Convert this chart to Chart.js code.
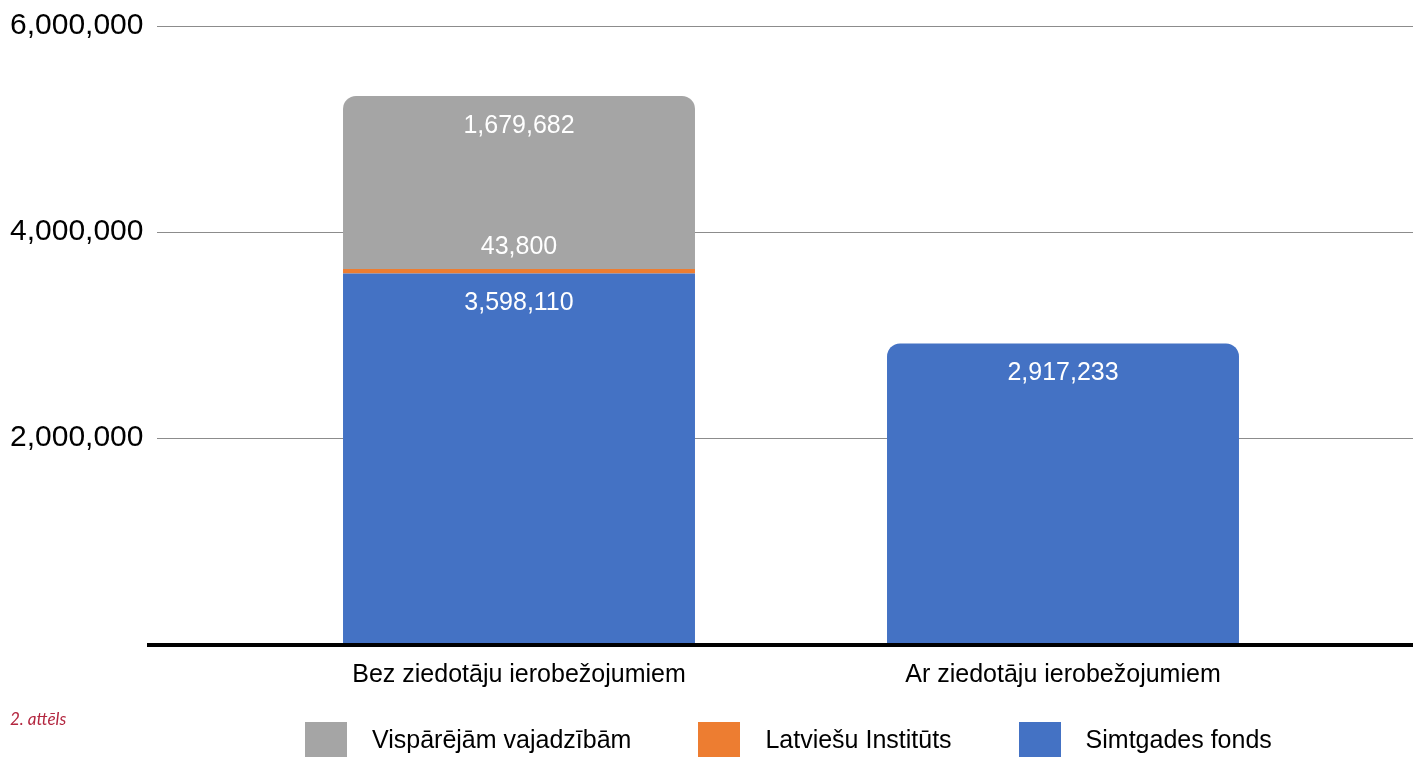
<!DOCTYPE html>
<html>
<head>
<meta charset="utf-8">
<script src="https://cdn.jsdelivr.net/npm/chart.js@4"></script>
<style>
  body { margin: 0; background: #fff; }
  #wrap { position: relative; width: 1413px; height: 757px; overflow: hidden; }
  #caption {
    position: absolute; left: 10px; top: 708px;
    font-family: "Lato", "DejaVu Sans", sans-serif; font-style: italic;
    font-size: 17px; color: #b3263f;
  }
  #legend {
    position: absolute; left: 305px; top: 722px;
    display: flex; align-items: center;
    font-family: "Liberation Sans", Arial, sans-serif; font-size: 25px; color: #000;
  }
  #legend .box { width: 42px; height: 35px; margin-right: 25px; }
  #legend .item { display: flex; align-items: center; margin-right: 67px; white-space: nowrap; }
</style>
</head>
<body>
<div id="wrap">
  <canvas id="fondi"></canvas>
  <div id="legend"></div>
  <div id="caption">2. attēls</div>
</div>
<script>
const categories = ['Bez ziedotāju ierobežojumiem', 'Ar ziedotāju ierobežojumiem'];
const simtgades = [3598110, 2917233];
const latviesu = [43800, 0];
const visparejam = [1679682, 0];
const yTicks = [0, 2000000, 4000000, 6000000];

const fontName = '"Liberation Sans", Arial, sans-serif';
const fmt = v => v.toLocaleString('en-US');

// top-most non-zero segment gets rounded top corners
function topRadius(ctx) {
  const i = ctx.dataIndex;
  const sets = ctx.chart.data.datasets;
  let top = -1;
  sets.forEach((ds, k) => { if (ds.data[i] > 0) top = k; });
  if (ctx.datasetIndex === top) return { topLeft: 13, topRight: 13, bottomLeft: 0, bottomRight: 0 };
  return 0;
}

// grid lines wider than the plot area + heavy baseline
const gridLines = {
  id: 'gridLines',
  beforeDatasetsDraw(chart) {
    const c = chart.ctx, y = chart.scales.y;
    c.save();
    c.strokeStyle = '#8c8c8c';
    c.lineWidth = 1;
    yTicks.forEach(t => {
      if (t === 0) return;
      const py = Math.round(y.getPixelForValue(t));
      c.beginPath(); c.moveTo(157, py + 0.5); c.lineTo(1413, py + 0.5); c.stroke();
    });
    c.restore();
  },
  afterDatasetsDraw(chart) {
    const c = chart.ctx, y = chart.scales.y;
    const py = y.getPixelForValue(0);
    c.save();
    c.fillStyle = '#000';
    c.fillRect(147, py - 1, 1413 - 147, 4);
    c.restore();
  }
};

// value labels inside the bars
const valueLabels = {
  id: 'valueLabels',
  afterDatasetsDraw(chart) {
    const c = chart.ctx;
    c.save();
    c.fillStyle = '#fff';
    c.font = '25px ' + fontName;
    c.textAlign = 'center';
    c.textBaseline = 'middle';
    chart.data.datasets.forEach((ds, k) => {
      chart.getDatasetMeta(k).data.forEach((bar, i) => {
        const v = ds.data[i];
        if (!v) return;
        const off = ds.label === 'Latviešu Institūts' ? -22 : 30;
        c.fillText(fmt(v), bar.x, bar.y + off);
      });
    });
    c.restore();
  }
};

// legend as html, built from the datasets
const htmlLegend = {
  id: 'htmlLegend',
  afterUpdate(chart) {
    const el = document.getElementById('legend');
    el.innerHTML = '';
    chart.data.datasets.slice().reverse().forEach(ds => {
      const item = document.createElement('div');
      item.className = 'item';
      const box = document.createElement('span');
      box.className = 'box';
      box.style.background = ds.backgroundColor;
      const txt = document.createElement('span');
      txt.textContent = ds.label;
      item.appendChild(box);
      item.appendChild(txt);
      el.appendChild(item);
    });
  }
};

new Chart(
  document.getElementById('fondi'),
  {
    type: 'bar',
    data: {
      labels: categories,
      datasets: [
        { label: 'Simtgades fonds', data: simtgades, backgroundColor: '#4472c4' },
        { label: 'Latviešu Institūts', data: latviesu, backgroundColor: '#ed7d31' },
        { label: 'Vispārējām vajadzībām', data: visparejam, backgroundColor: '#a5a5a5' }
      ]
    },
    options: {
      responsive: true,
      maintainAspectRatio: false,
      animation: false,
      layout: { padding: { left: 10, right: 78, top: 0, bottom: 59 } },
      datasets: {
        bar: {
          categoryPercentage: 0.647,
          barPercentage: 1,
          borderRadius: topRadius,
          borderSkipped: false
        }
      },
      scales: {
        x: {
          stacked: true,
          grid: { display: false },
          border: { display: false },
          ticks: { color: '#000', font: { family: fontName, size: 25 }, padding: 8 }
        },
        y: {
          stacked: true,
          min: 0,
          max: 6000000,
          afterBuildTicks: axis => { axis.ticks = yTicks.map(v => ({ value: v })); },
          afterFit: axis => { axis.width = 237; },
          grid: { display: false },
          border: { display: false },
          ticks: {
            color: '#000',
            font: { family: fontName, size: 30 },
            padding: 8,
            crossAlign: 'far',
            callback: v => v === 0 ? '' : fmt(v)
          }
        }
      },
      plugins: {
        tooltip: { enabled: false },
        legend: { display: false }
      }
    },
    plugins: [gridLines, valueLabels, htmlLegend]
  }
);
</script>
</body>
</html>
